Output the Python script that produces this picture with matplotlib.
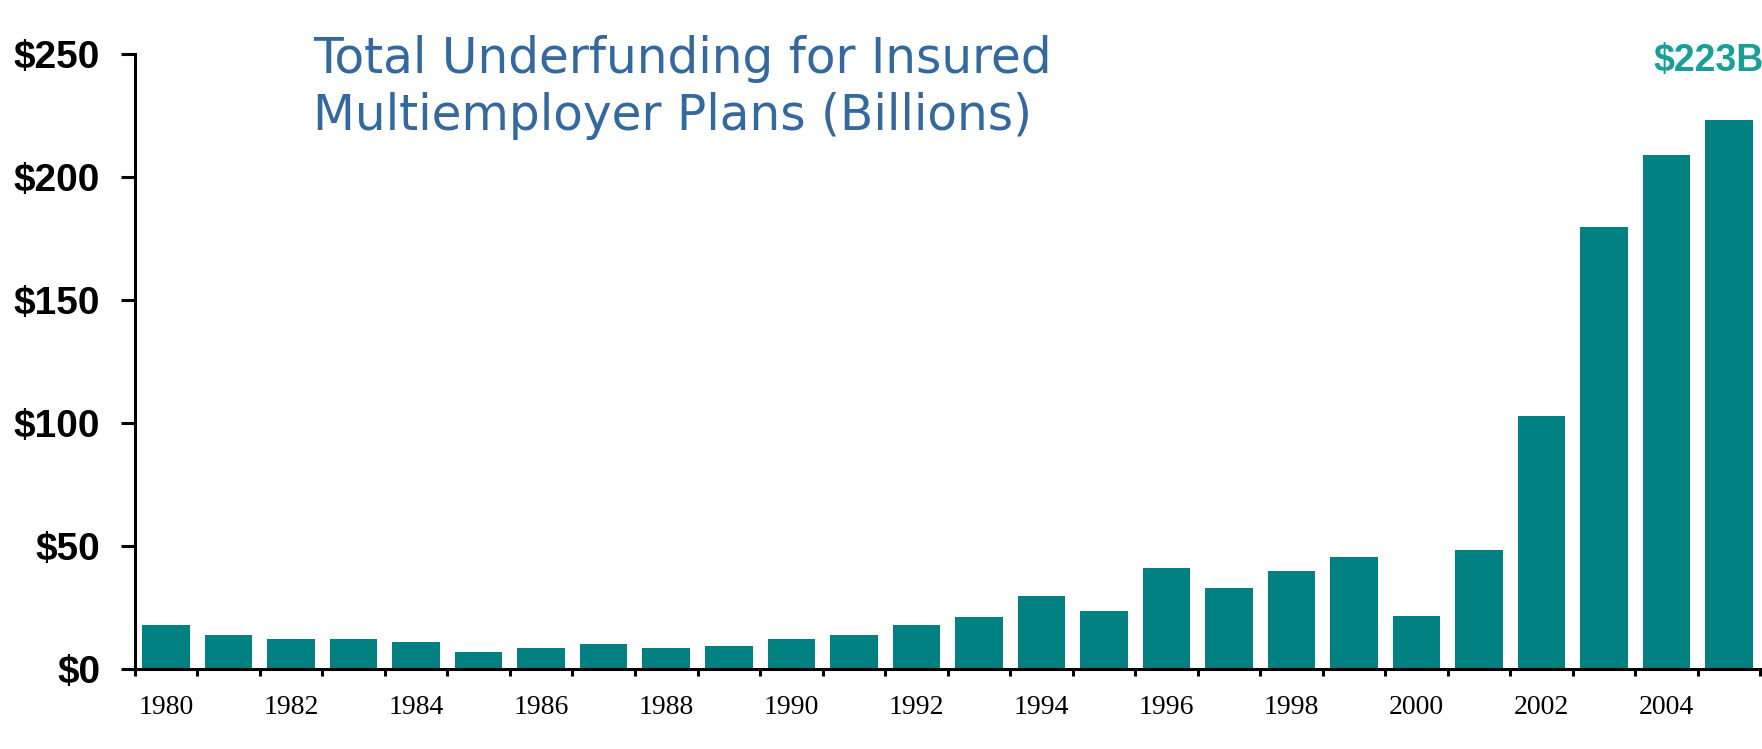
import matplotlib.pyplot as plt
import numpy as np

# Total underfunding of insured multiemployer plans, billions of dollars
years = list(range(1980, 2006))
underfunding = [18, 14, 12, 12, 11, 7, 8.5, 10, 8.5, 9.5, 12, 14, 18, 21, 29.5, 23.5,
                41, 33, 40, 45.5, 21.5, 48.5, 103, 179.5, 209, 223]
y_ticks = [0, 50, 100, 150, 200, 250]
y_tick_labels = ['$0', '$50', '$100', '$150', '$200', '$250']
title_lines = ['Total Underfunding for Insured', 'Multiemployer Plans (Billions)']

bar_color = '#008080'
label_color = '#1a9e96'
title_color = '#35689c'

fig = plt.figure(figsize=(17.62, 7.49), dpi=100)
ax = fig.add_axes([0.0766, 0.1068, 0.9223, 0.8211])

x = np.arange(len(years))
ax.bar(x, underfunding, width=0.76, color=bar_color, zorder=2)

ax.set_xlim(-0.5, len(years) - 0.5)
ax.set_ylim(0, 250)

for side in ['top', 'right']:
    ax.spines[side].set_visible(False)
for side in ['left', 'bottom']:
    ax.spines[side].set_linewidth(2.2)
    ax.spines[side].set_color('black')

# y axis: bold dollar labels, long outward ticks
ax.set_yticks(y_ticks)
ax.set_yticklabels(y_tick_labels, fontfamily='Liberation Sans', fontweight='bold', fontsize=28)
ax.tick_params(axis='y', direction='out', length=10, width=2.2, pad=15)

# x axis: tick marks between bars, year labels every other bar
ax.set_xticks(np.arange(len(years) + 1) - 0.5)
ax.set_xticklabels([])
ax.tick_params(axis='x', which='major', direction='out', length=5, width=2.2)
even = [i for i, yr in enumerate(years) if yr % 2 == 0]
ax.set_xticks(even, minor=True)
ax.set_xticklabels([str(years[i]) for i in even], minor=True,
                   fontfamily='Liberation Serif', fontsize=20)
ax.tick_params(axis='x', which='minor', length=0, pad=19)

# value label above the last bar
last = len(years) - 1
ax.annotate(f'${underfunding[last]:.0f}B', xy=(x[last], underfunding[last]),
            xytext=(-20, 59), textcoords='offset pixels', ha='center', va='center',
            fontfamily='Liberation Sans', fontweight='bold', fontsize=27,
            color=label_color, annotation_clip=False)

fig.text(313 / 1762, 1 - 73 / 749, title_lines[0], ha='left', va='baseline',
         fontsize=35, color=title_color, family='DejaVu Sans')
fig.text(313 / 1762, 1 - 130 / 749, title_lines[1], ha='left', va='baseline',
         fontsize=35, color=title_color, family='DejaVu Sans')

fig.savefig('out.png', dpi=100)
